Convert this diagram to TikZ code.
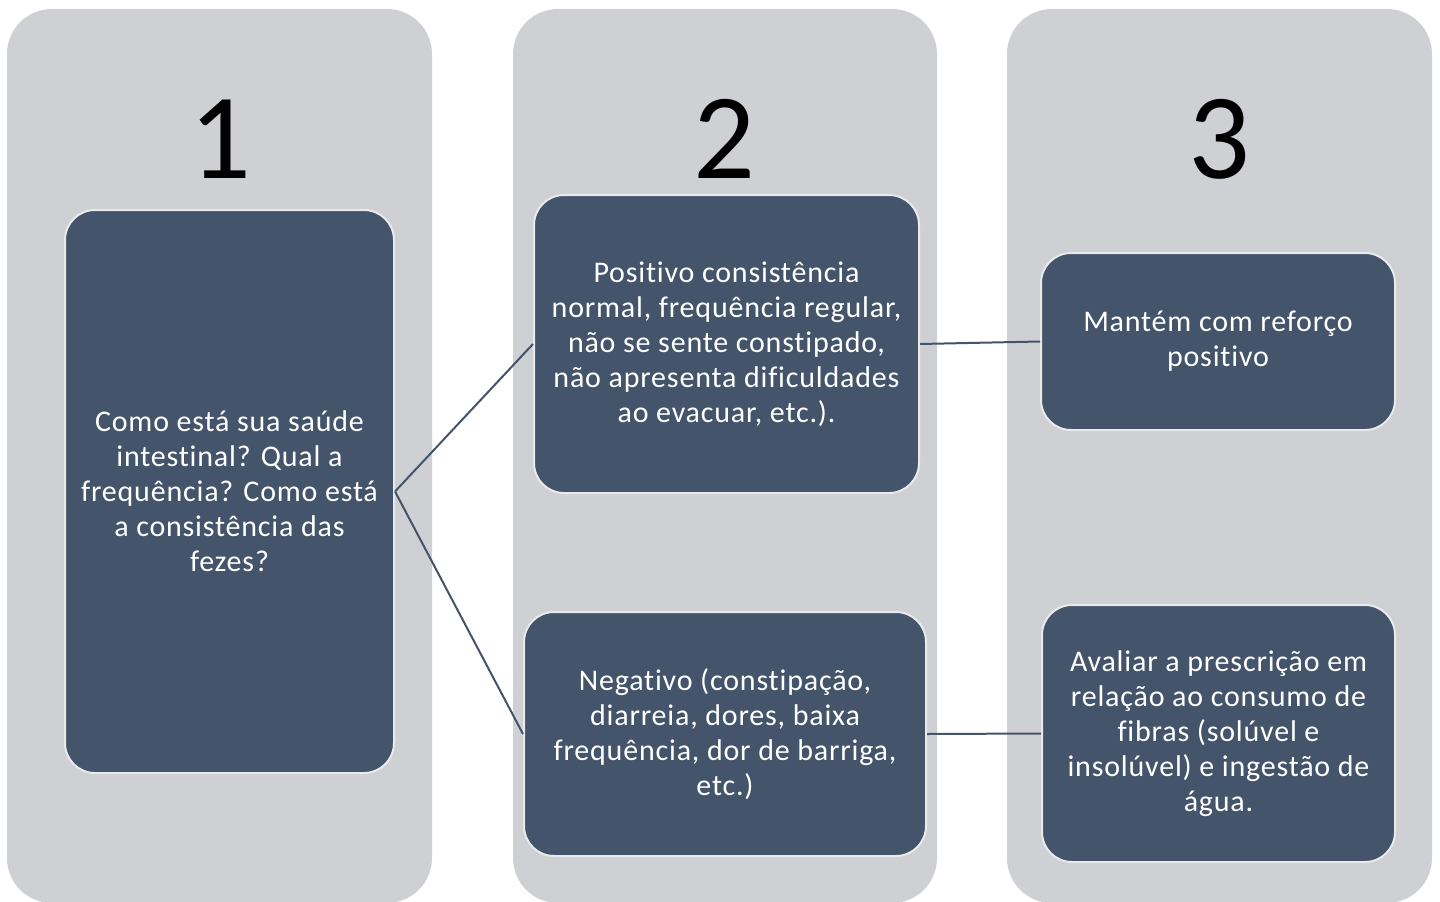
\documentclass[tikz,border=0pt]{standalone}
\usepackage{fontspec}
\setmainfont{Carlito}[Ligatures=NoCommon]
\newfontfamily\boxfont{Carlito}[Ligatures=NoCommon, LetterSpace=2.7]
\definecolor{colgray}{HTML}{CFD0D4}
\definecolor{boxblue}{HTML}{44546A}
\definecolor{boxedge}{HTML}{E9EAEC}
\begin{document}
\begin{tikzpicture}[x=1pt,y=-1pt,
  column/.style={fill=colgray, rounded corners=45pt},
  box/.style={draw=boxedge, line width=2pt, fill=boxblue, rounded corners=30pt,
    text=white, align=center, font=\boxfont\fontsize{30}{35}\selectfont, inner sep=0pt},
  num/.style={font=\fontsize{122}{122}\selectfont, anchor=base, text=black},
  link/.style={draw=boxblue, line width=2pt}]
\useasboundingbox (0,0) rectangle (1440,902);
\begin{scope}
\clip (0,0) rectangle (1440,902);
\fill[column] (7,9) rectangle (432,903);
\fill[column] (513,9) rectangle (937,903);
\fill[column] (1007,9) rectangle (1432,903);
\end{scope}
\node[num] (n1) at (220,178) {1};
\node[num] (n2) at (724,178) {2};
\node[num] (n3) at (1219,178) {3};
\node[box, minimum width=329pt, minimum height=563pt] (b1) at (229.5,491.5)
  {Como está sua saúde\\intestinal? Qual a\\frequência? Como está\\a consistência das\\fezes?};
\node[box, minimum width=385pt, minimum height=298pt] (b2a) at (726.5,344)
  {Positivo consistência\\normal, frequência regular,\\não se sente constipado,\\não apresenta dificuldades\\ao evacuar, etc.).};
\node[box, minimum width=402pt, minimum height=244pt] (b2b) at (725,734)
  {Negativo (constipação,\\diarreia, dores, baixa\\frequência, dor de barriga,\\etc.)};
\node[box, minimum width=354pt, minimum height=177pt] (b3a) at (1218,341.5)
  {Mantém com reforço\\positivo};
\node[box, minimum width=353pt, minimum height=257pt] (b3b) at (1218.5,733.5)
  {Avaliar a prescrição em\\relação ao consumo de\\fibras (solúvel e\\insolúvel) e ingestão de\\água.};
\draw[link] (b1.east) -- (b2a.west);
\draw[link] (b1.east) -- (b2b.west);
\draw[link] (b2a.east) -- (b3a.west);
\draw[link] (b2b.east) -- (b3b.west);
\end{tikzpicture}
\end{document}
